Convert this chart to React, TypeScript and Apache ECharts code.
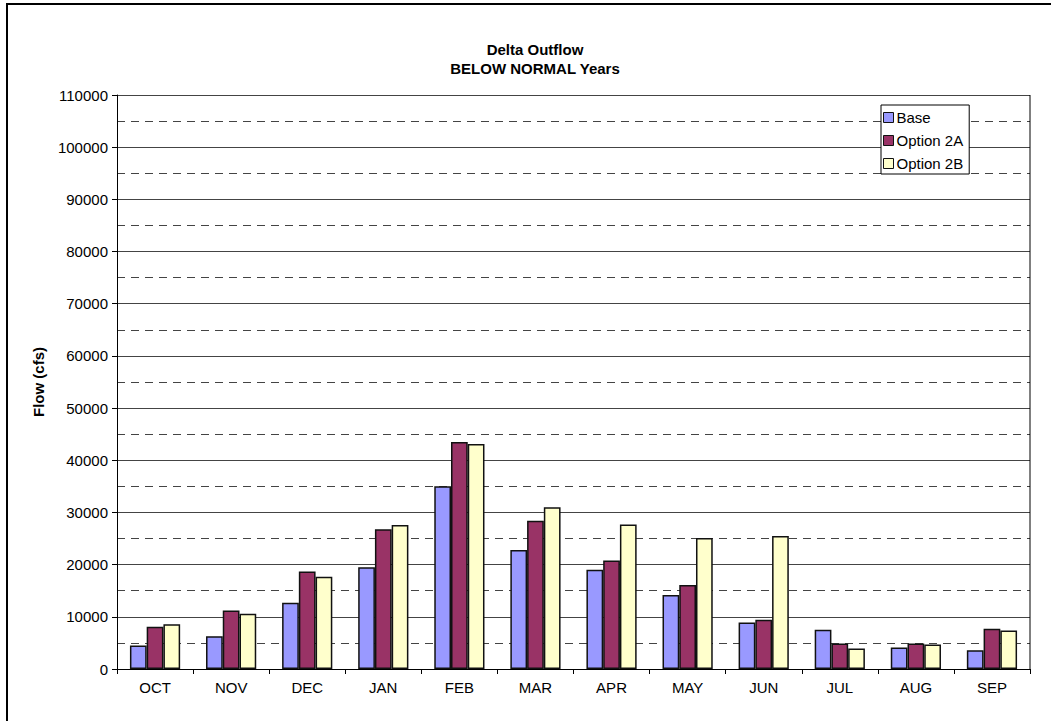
import React, { useEffect, useRef } from "react";
import * as echarts from "echarts";

const months = ["OCT", "NOV", "DEC", "JAN", "FEB", "MAR", "APR", "MAY", "JUN", "JUL", "AUG", "SEP"];
const baseValues = [4500, 6300, 12700, 19500, 35000, 22800, 19000, 14200, 8900, 7500, 4100, 3600];
const option2AValues = [8100, 11200, 18700, 26800, 43500, 28400, 20800, 16100, 9450, 4900, 4900, 7700];
const option2BValues = [8560, 10600, 17700, 27600, 43100, 31000, 27700, 25100, 25500, 3950, 4700, 7400];
const seriesNames = ["Base", "Option 2A", "Option 2B"];
const seriesColors = ["#9999FF", "#993366", "#FFFFCC"];

const FONT = "'Liberation Sans', Arial, sans-serif";

export default function App() {
  const ref = useRef<HTMLDivElement>(null);
  useEffect(() => {
    document.body.style.margin = "0";
    const chart = echarts.init(ref.current!, null, { renderer: "svg" });
    const data = [baseValues, option2AValues, option2BValues];
    chart.setOption({
      animation: false,
      backgroundColor: "#ffffff",
      textStyle: { fontFamily: FONT },
      title: {
        text: "Delta Outflow\nBELOW NORMAL Years",
        left: 530,
        textAlign: "center",
        top: 35,
        textStyle: { fontFamily: FONT, fontSize: 15, fontWeight: "bold", color: "#000", lineHeight: 19 },
      },
      legend: {
        orient: "vertical",
        left: 881,
        top: 105,
        itemWidth: 10,
        itemHeight: 10,
        itemGap: 6,
        padding: [4, 6, 2, 2],
        borderColor: "#000",
        borderWidth: 1,
        backgroundColor: "#fff",
        icon: "rect",
        textStyle: { fontFamily: FONT, fontSize: 15, color: "#000", padding: [0, 0, 0, -2], lineHeight: 17 },
        itemStyle: { borderColor: "#111", borderWidth: 1 },
        data: seriesNames,
      },
      grid: { left: 117, right: 21, top: 95, bottom: 52, containLabel: false },
      xAxis: {
        type: "category",
        data: months,
        boundaryGap: true,
        axisLine: { lineStyle: { color: "#000", width: 1 } },
        axisTick: { show: true, length: 5, lineStyle: { color: "#000" } },
        axisLabel: { color: "#000", fontSize: 15, fontFamily: FONT, margin: 11 },
      },
      yAxis: {
        type: "value",
        min: 0,
        max: 110000,
        interval: 10000,
        name: "Flow (cfs)",
        nameLocation: "middle",
        nameGap: 71,
        nameRotate: 90,
        nameTextStyle: { fontFamily: FONT, fontSize: 15, fontWeight: "bold", color: "#000" },
        axisLine: { show: true, lineStyle: { color: "#000", width: 1 } },
        axisTick: { show: true, length: 5, lineStyle: { color: "#000" } },
        axisLabel: {
          color: "#000",
          fontSize: 15,
          fontFamily: FONT,
          margin: 9,
          formatter: (v: number) => String(v),
        },
        splitLine: { show: true, lineStyle: { color: "#444", width: 1, type: "solid" } },
        minorTick: { show: false, splitNumber: 2 },
        minorSplitLine: { show: true, lineStyle: { color: "#444", width: 1, type: [8, 6] } },
      },
      series: seriesNames.map((name, i) => ({
        name,
        type: "bar",
        data: data[i],
        barGap: "0%",
        barCategoryGap: "34%",
        itemStyle: { color: seriesColors[i], borderColor: "#111", borderWidth: 1.5 },
      })),
      graphic: [
        {
          type: "line",
          shape: { x1: 1030, y1: 95, x2: 1030, y2: 669 },
          style: { stroke: "#000", lineWidth: 1 },
          z: 10,
        },
      ],
    });
    return () => chart.dispose();
  }, []);
  return (
    <div style={{ position: "fixed", left: 0, top: 0, width: 1051, height: 721, overflow: "hidden", background: "#fff" }}>
      <div ref={ref} style={{ position: "absolute", left: 0, top: 0, width: 1051, height: 721 }} />
      <div
        style={{
          position: "absolute",
          left: 6,
          top: 3,
          width: 1100,
          height: 800,
          border: "2px solid #000",
          pointerEvents: "none",
        }}
      />
    </div>
  );
}
